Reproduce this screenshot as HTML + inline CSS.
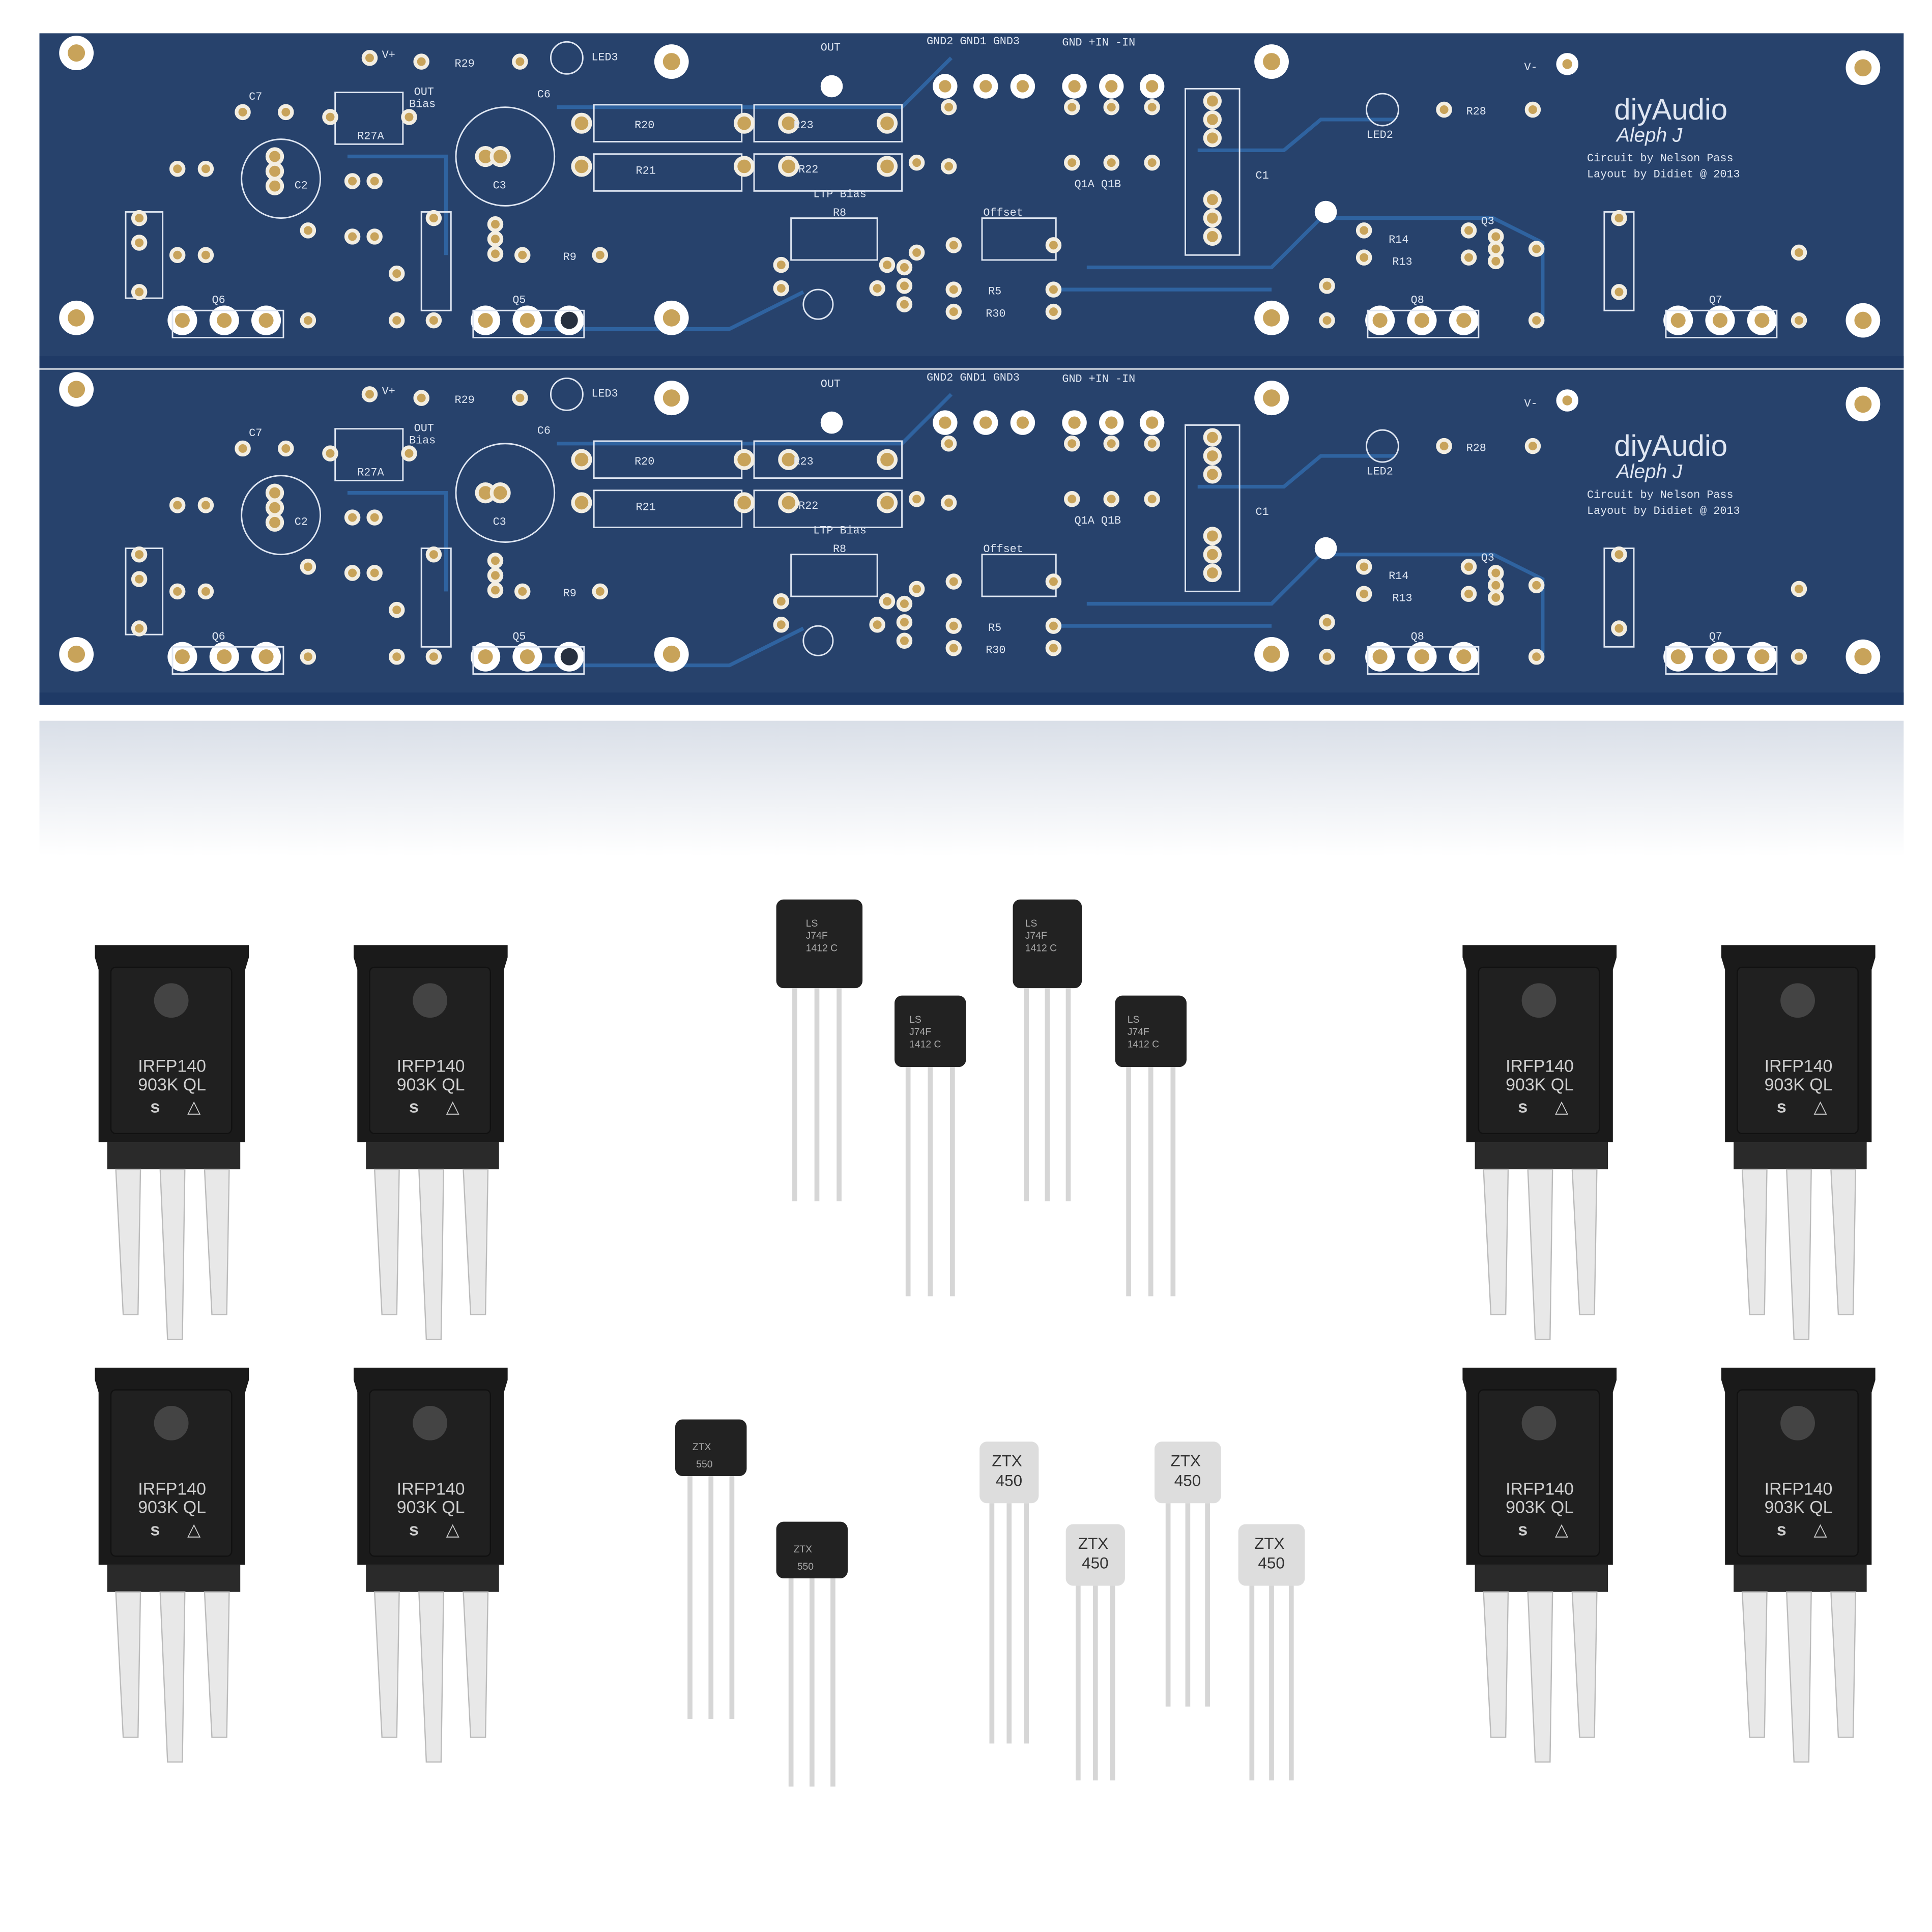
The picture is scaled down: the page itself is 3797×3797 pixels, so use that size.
<!DOCTYPE html>
<html><head><meta charset="utf-8"><style>
html,body{margin:0;padding:0;background:#fff}
svg{display:block}
.s{fill:#dfe6f2;font-family:"Liberation Mono",monospace;font-size:9px}
.b{fill:#dfe6f2;font-family:"Liberation Sans",sans-serif}
.m{fill:#cfcfcf;font-family:"Liberation Sans",sans-serif;font-size:14px}
.t{fill:#aaa;font-family:"Liberation Sans",sans-serif;font-size:8px}
</style></head><body>
<svg width="3797" height="3797" viewBox="0 0 1568 1568" xmlns="http://www.w3.org/2000/svg">
<defs>
<linearGradient id="refl" x1="0" y1="0" x2="0" y2="1">
<stop offset="0" stop-color="#c9d1de"/><stop offset="1" stop-color="#fff"/></linearGradient>
<g id="board">
<rect x="0" y="0" width="1513" height="272" fill="#27426c"/>
<rect x="0" y="262" width="1513" height="10" fill="#1f3a66"/>
<g fill="none" stroke="#2f63a0" stroke-width="3">
<path d="M420 60 L700 60 L740 20"/><path d="M940 95 L1010 95 L1040 70 L1100 70"/>
<path d="M850 190 L1000 190 L1040 150 L1180 150 L1220 170 L1220 235"/>
<path d="M250 100 L330 100 L330 180"/><path d="M620 210 L560 240 L400 240"/>
<path d="M825 208 L1000 208"/>
</g>
<g fill="#fff"><circle cx="30" cy="16" r="14"/><circle cx="513" cy="23" r="14"/><circle cx="1000" cy="23" r="14"/><circle cx="1480" cy="28" r="14"/>
<circle cx="30" cy="231" r="14"/><circle cx="513" cy="231" r="14"/><circle cx="1000" cy="231" r="14"/><circle cx="1480" cy="233" r="14"/></g>
<g fill="#c8a35a"><circle cx="30" cy="16" r="7"/><circle cx="513" cy="23" r="7"/><circle cx="1000" cy="23" r="7"/><circle cx="1480" cy="28" r="7"/>
<circle cx="30" cy="231" r="7"/><circle cx="513" cy="231" r="7"/><circle cx="1000" cy="231" r="7"/><circle cx="1480" cy="233" r="7"/></g>
<g fill="#fff"><circle cx="116" cy="233" r="12"/><circle cx="150" cy="233" r="12"/><circle cx="184" cy="233" r="12"/>
<circle cx="362" cy="233" r="12"/><circle cx="396" cy="233" r="12"/><circle cx="430" cy="233" r="12"/>
<circle cx="1088" cy="233" r="12"/><circle cx="1122" cy="233" r="12"/><circle cx="1156" cy="233" r="12"/>
<circle cx="1330" cy="233" r="12"/><circle cx="1364" cy="233" r="12"/><circle cx="1398" cy="233" r="12"/>
<circle cx="735" cy="43" r="10"/><circle cx="768" cy="43" r="10"/><circle cx="798" cy="43" r="10"/>
<circle cx="840" cy="43" r="10"/><circle cx="870" cy="43" r="10"/><circle cx="903" cy="43" r="10"/>
<circle cx="643" cy="43" r="9"/><circle cx="1240" cy="25" r="9"/><circle cx="1044" cy="145" r="9"/>
</g>
<g fill="#c8a35a"><circle cx="116" cy="233" r="6"/><circle cx="150" cy="233" r="6"/><circle cx="184" cy="233" r="6"/>
<circle cx="362" cy="233" r="6"/><circle cx="396" cy="233" r="6"/><circle cx="430" cy="233" r="7" fill="#27303f"/>
<circle cx="1088" cy="233" r="6"/><circle cx="1122" cy="233" r="6"/><circle cx="1156" cy="233" r="6"/>
<circle cx="1330" cy="233" r="6"/><circle cx="1364" cy="233" r="6"/><circle cx="1398" cy="233" r="6"/>
<circle cx="735" cy="43" r="5"/><circle cx="768" cy="43" r="5"/><circle cx="798" cy="43" r="5"/>
<circle cx="840" cy="43" r="5"/><circle cx="870" cy="43" r="5"/><circle cx="903" cy="43" r="5"/><circle cx="1240" cy="25" r="4"/></g>
<g fill="none" stroke="#dfe6f2" stroke-width="1.2">
<circle cx="196" cy="118" r="32"/><circle cx="378" cy="100" r="40"/><circle cx="428" cy="20" r="13"/><circle cx="1090" cy="62" r="13"/>
<circle cx="632" cy="220" r="12"/>
<rect x="70" y="145" width="30" height="70"/><rect x="310" y="145" width="24" height="80"/><rect x="1270" y="145" width="24" height="80"/>
<rect x="930" y="45" width="44" height="135"/><rect x="450" y="58" width="120" height="30"/><rect x="580" y="58" width="120" height="30"/>
<rect x="450" y="98" width="120" height="30"/><rect x="580" y="98" width="120" height="30"/>
<rect x="108" y="225" width="90" height="22"/><rect x="352" y="225" width="90" height="22"/><rect x="1078" y="225" width="90" height="22"/><rect x="1320" y="225" width="90" height="22"/>
<rect x="240" y="48" width="55" height="42"/><rect x="610" y="150" width="70" height="34"/><rect x="765" y="150" width="60" height="34"/>
</g>
<g fill="#c8a35a" stroke="#f3eee2" stroke-width="3">
<circle cx="81" cy="150" r="5"/><circle cx="81" cy="170" r="5"/><circle cx="81" cy="210" r="5"/>
<circle cx="112" cy="110" r="5"/><circle cx="112" cy="180" r="5"/><circle cx="135" cy="110" r="5"/><circle cx="135" cy="180" r="5"/>
<circle cx="165" cy="64" r="5"/><circle cx="200" cy="64" r="5"/><circle cx="218" cy="233" r="5"/><circle cx="218" cy="160" r="5"/>
<circle cx="191" cy="100" r="6"/><circle cx="191" cy="112" r="6"/><circle cx="191" cy="124" r="6"/>
<circle cx="254" cy="120" r="5"/><circle cx="254" cy="165" r="5"/><circle cx="272" cy="120" r="5"/><circle cx="272" cy="165" r="5"/>
<circle cx="236" cy="68" r="5"/><circle cx="300" cy="68" r="5"/><circle cx="290" cy="195" r="5"/><circle cx="290" cy="233" r="5"/>
<circle cx="320" cy="150" r="5"/><circle cx="320" cy="233" r="5"/><circle cx="268" cy="20" r="5"/><circle cx="310" cy="23" r="5"/><circle cx="390" cy="23" r="5"/>
<circle cx="362" cy="100" r="7"/><circle cx="374" cy="100" r="7"/>
<circle cx="370" cy="155" r="5"/><circle cx="370" cy="167" r="5"/><circle cx="370" cy="179" r="5"/><circle cx="392" cy="180" r="5"/><circle cx="455" cy="180" r="5"/>
<circle cx="440" cy="73" r="7"/><circle cx="440" cy="108" r="7"/><circle cx="572" cy="73" r="7"/><circle cx="572" cy="108" r="7"/>
<circle cx="608" cy="73" r="7"/><circle cx="608" cy="108" r="7"/><circle cx="688" cy="73" r="7"/><circle cx="688" cy="108" r="7"/>
<circle cx="602" cy="188" r="5"/><circle cx="688" cy="188" r="5"/><circle cx="602" cy="207" r="5"/><circle cx="680" cy="207" r="5"/>
<circle cx="712" cy="105" r="5"/><circle cx="712" cy="178" r="5"/><circle cx="738" cy="60" r="5"/><circle cx="738" cy="108" r="5"/>
<circle cx="702" cy="190" r="5"/><circle cx="702" cy="205" r="5"/><circle cx="702" cy="220" r="5"/>
<circle cx="742" cy="172" r="5"/><circle cx="742" cy="208" r="5"/><circle cx="742" cy="226" r="5"/><circle cx="823" cy="208" r="5"/><circle cx="823" cy="226" r="5"/><circle cx="823" cy="172" r="5"/>
<circle cx="838" cy="60" r="5"/><circle cx="838" cy="105" r="5"/><circle cx="870" cy="60" r="5"/><circle cx="870" cy="105" r="5"/><circle cx="903" cy="60" r="5"/><circle cx="903" cy="105" r="5"/>
<circle cx="952" cy="55" r="6"/><circle cx="952" cy="70" r="6"/><circle cx="952" cy="85" r="6"/><circle cx="952" cy="135" r="6"/><circle cx="952" cy="150" r="6"/><circle cx="952" cy="165" r="6"/>
<circle cx="1045" cy="205" r="5"/><circle cx="1045" cy="233" r="5"/><circle cx="1075" cy="160" r="5"/><circle cx="1075" cy="182" r="5"/><circle cx="1160" cy="160" r="5"/><circle cx="1160" cy="182" r="5"/>
<circle cx="1182" cy="165" r="5"/><circle cx="1182" cy="175" r="5"/><circle cx="1182" cy="185" r="5"/>
<circle cx="1215" cy="175" r="5"/><circle cx="1215" cy="233" r="5"/><circle cx="1140" cy="62" r="5"/><circle cx="1212" cy="62" r="5"/>
<circle cx="1282" cy="150" r="5"/><circle cx="1282" cy="210" r="5"/><circle cx="1428" cy="178" r="5"/><circle cx="1428" cy="233" r="5"/>
</g>
<text x="278" y="20" class="s">V+</text><text x="337" y="27" class="s">R29</text><text x="448" y="22" class="s">LED3</text>
<text x="634" y="14" class="s">OUT</text><text x="720" y="9" class="s">GND2 GND1 GND3</text><text x="830" y="10" class="s">GND  +IN   -IN</text>
<text x="170" y="54" class="s">C7</text><text x="304" y="50" class="s">OUT</text><text x="300" y="60" class="s">Bias</text><text x="404" y="52" class="s">C6</text>
<text x="258" y="86" class="s">R27A</text><text x="207" y="126" class="s" font-size="13">C2</text><text x="368" y="126" class="s" font-size="13">C3</text>
<text x="483" y="77" class="s">R20</text><text x="612" y="77" class="s">R23</text><text x="484" y="114" class="s">R21</text><text x="616" y="113" class="s">R22</text>
<text x="628" y="133" class="s">LTP Bias</text><text x="644" y="148" class="s">R8</text><text x="425" y="184" class="s">R9</text>
<text x="140" y="219" class="s" font-size="11">Q6</text><text x="384" y="219" class="s" font-size="11">Q5</text><text x="1113" y="219" class="s">Q8</text><text x="1355" y="219" class="s">Q7</text>
<text x="766" y="148" class="s">Offset</text><text x="770" y="212" class="s">R5</text><text x="768" y="230" class="s">R30</text>
<text x="987" y="118" class="s" font-size="12">C1</text><text x="1095" y="170" class="s">R14</text><text x="1098" y="188" class="s">R13</text><text x="1170" y="155" class="s">Q3</text>
<text x="1077" y="85" class="s">LED2</text><text x="1158" y="66" class="s">R28</text><text x="1205" y="30" class="s">V-</text><text x="840" y="125" class="s">Q1A Q1B</text>
<text x="1278" y="70" class="b" font-size="24">diyAudio</text><text x="1280" y="88" class="b" font-size="16" font-style="italic">Aleph J</text>
<text x="1256" y="104" class="s" font-size="12">Circuit by Nelson Pass</text><text x="1256" y="117" class="s" font-size="12">Layout by Didiet @ 2013</text>
</g>
<g id="fet">
<path d="M5 0 H130 V10 L127 20 V160 H8 V20 L5 10 Z" fill="#1a1a1a"/>
<rect x="18" y="18" width="98" height="135" rx="4" fill="#202020" stroke="#111"/>
<circle cx="67" cy="45" r="14" fill="#444"/>
<text x="40" y="103" class="m">IRFP140</text><text x="40" y="118" class="m">903K  QL</text>
<text x="50" y="136" class="m" font-weight="bold">s</text><text x="80" y="136" class="m">△</text>
<rect x="15" y="160" width="108" height="22" fill="#2a2a2a"/>
<path d="M22 182 H42 L40 300 H28 Z" fill="#e8e8e8" stroke="#bbb"/>
<path d="M58 182 H78 L76 320 H64 Z" fill="#e8e8e8" stroke="#bbb"/>
<path d="M94 182 H114 L112 300 H100 Z" fill="#e8e8e8" stroke="#bbb"/>
</g>
</defs>
<rect width="1568" height="1568" fill="#fff"/>
<rect x="32" y="585" width="1513" height="110" fill="url(#refl)" opacity="0.7"/>
<use href="#board" x="32" y="27"/>
<use href="#board" x="32" y="300"/>
<g transform="translate(72,767)"><use href="#fet"/></g>
<g transform="translate(282,767)"><use href="#fet"/></g>
<g transform="translate(1182,767)"><use href="#fet"/></g>
<g transform="translate(1392,767)"><use href="#fet"/></g>
<g transform="translate(72,1110)"><use href="#fet"/></g>
<g transform="translate(282,1110)"><use href="#fet"/></g>
<g transform="translate(1182,1110)"><use href="#fet"/></g>
<g transform="translate(1392,1110)"><use href="#fet"/></g>
<g fill="#222">
<rect x="630" y="730" width="70" height="72" rx="6"/><rect x="726" y="808" width="58" height="58" rx="6"/>
<rect x="822" y="730" width="56" height="72" rx="6"/><rect x="905" y="808" width="58" height="58" rx="6"/>
<rect x="548" y="1152" width="58" height="46" rx="6"/><rect x="630" y="1235" width="58" height="46" rx="6"/>
</g>
<g fill="#ddd">
<rect x="795" y="1170" width="48" height="50" rx="6"/><rect x="865" y="1237" width="48" height="50" rx="6"/>
<rect x="937" y="1170" width="54" height="50" rx="6"/><rect x="1005" y="1237" width="54" height="50" rx="6"/>
</g>
<g stroke="#d6d6d6" stroke-width="4">
<path d="M645 802V975M663 802V975M681 802V975"/><path d="M737 866V1052M755 866V1052M773 866V1052"/>
<path d="M833 802V975M850 802V975M867 802V975"/><path d="M916 866V1052M934 866V1052M952 866V1052"/>
<path d="M560 1198V1395M577 1198V1395M594 1198V1395"/><path d="M642 1281V1450M659 1281V1450M676 1281V1450"/>
<path d="M805 1220V1415M819 1220V1415M833 1220V1415"/><path d="M875 1287V1445M889 1287V1445M903 1287V1445"/>
<path d="M948 1220V1385M964 1220V1385M980 1220V1385"/><path d="M1016 1287V1445M1032 1287V1445M1048 1287V1445"/>
</g>
<text x="654" y="752" class="t">LS</text><text x="654" y="762" class="t">J74F</text><text x="654" y="772" class="t">1412 C</text>
<text x="738" y="830" class="t">LS</text><text x="738" y="840" class="t">J74F</text><text x="738" y="850" class="t">1412 C</text>
<text x="832" y="752" class="t">LS</text><text x="832" y="762" class="t">J74F</text><text x="832" y="772" class="t">1412 C</text>
<text x="915" y="830" class="t">LS</text><text x="915" y="840" class="t">J74F</text><text x="915" y="850" class="t">1412 C</text>
<text x="562" y="1177" class="t" font-size="12">ZTX</text><text x="565" y="1191" class="t" font-size="12">550</text>
<text x="644" y="1260" class="t" font-size="12">ZTX</text><text x="647" y="1274" class="t" font-size="12">550</text>
<g font-family="Liberation Sans,sans-serif" font-size="13" fill="#333">
<text x="805" y="1190">ZTX</text><text x="808" y="1206">450</text>
<text x="875" y="1257">ZTX</text><text x="878" y="1273">450</text>
<text x="950" y="1190">ZTX</text><text x="953" y="1206">450</text>
<text x="1018" y="1257">ZTX</text><text x="1021" y="1273">450</text>
</g>
</svg>
</body></html>
